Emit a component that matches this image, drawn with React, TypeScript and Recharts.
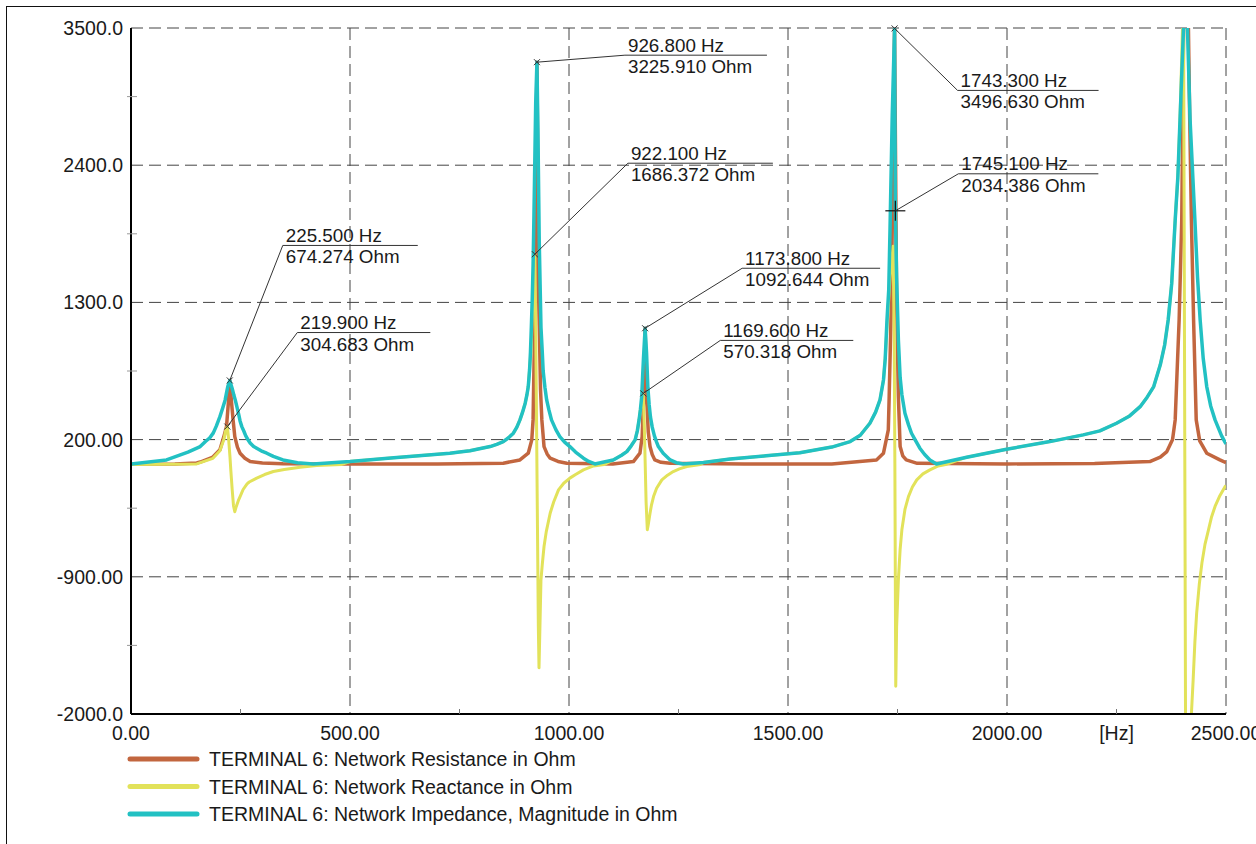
import { CartesianGrid, Line, LineChart, ReferenceDot, XAxis, YAxis } from 'recharts';

// frequency [Hz], value [Ohm]
const resistance: [number, number][] = [
  [0, 3], [100, 4], [150, 12], [158, 20], [187, 60], [203, 118], [212, 224], [218, 304], [222, 480],
  [225.5, 674], [229, 520], [233, 360], [237, 224], [243, 140], [249, 91], [260, 50], [272, 24],
  [300, 12], [347, 6], [500, 4], [700, 4], [850, 11], [888, 37], [907, 91], [915, 198], [918, 358],
  [922, 1200], [926.8, 3226], [931, 1300], [935, 600], [938, 358], [943, 144], [950, 85], [957, 51],
  [975, 25], [995, 11], [1100, 5], [1147, 24], [1162, 91], [1167, 224], [1171, 600], [1173.8, 1092],
  [1177, 550], [1181, 260], [1185, 144], [1190, 80], [1196, 37], [1210, 18], [1231, 10], [1400, 4],
  [1600, 5], [1702, 37], [1718, 91], [1729, 278], [1731, 544], [1736, 1300], [1743.3, 3497],
  [1748, 1300], [1752, 544], [1756, 144], [1762, 70], [1770, 37], [1795, 10], [2000, 5], [2200, 8],
  [2326, 24], [2350, 60], [2365, 104], [2378, 200], [2384, 358], [2393, 1159], [2399, 1960],
  [2404, 3800], [2408, 5500], [2413, 3800], [2417, 2800], [2421, 1960], [2426, 1159], [2432, 358],
  [2440, 190], [2456, 91], [2486, 37], [2500, 15],
];

const reactance: [number, number][] = [
  [0, 0], [150, 5], [187, 50], [203, 110], [212, 200], [216, 270], [219.9, 305], [223, 200], [226, 60],
  [228, -50], [231, -200], [234, -330], [237, -378], [240, -340], [245, -290], [250, -250], [256, -200],
  [265, -155], [270, -140], [287, -109], [305, -80], [325, -56], [350, -40], [386, -21], [424, -8],
  [480, 0], [500, 24], [600, 55], [728, 91], [750, 100], [774, 110], [790, 122], [820, 144],
  [835, 162], [850, 184], [862, 215], [873, 251], [881, 300], [888, 358], [894, 420], [900, 492],
  [904, 560], [907, 625], [910, 760], [913, 900], [917, 1250], [920, 1550], [922.1, 1686], [924, 1100],
  [926, 300], [928, -500], [930, -1300], [931.5, -1630], [933, -1400], [936, -924], [939, -800],
  [943, -657], [948, -540], [957, -390], [965, -300], [976, -203], [988, -150], [1002, -109],
  [1015, -80], [1033, -43], [1056, -11], [1080, 0], [1101, 37], [1110, 55], [1120, 75], [1132, 104],
  [1142, 150], [1151, 198], [1156, 270], [1160, 358], [1163, 440], [1166, 500], [1169.6, 570],
  [1172, 300], [1174, 0], [1176, -300], [1178.8, -523], [1181, -480], [1185, -390], [1188, -330],
  [1193, -257], [1200, -190], [1212, -123], [1225, -85], [1238, -56], [1252, -35], [1269, -16],
  [1300, 0], [1307, 16], [1368, 45], [1450, 70], [1527, 95], [1600, 140], [1642, 184], [1665, 235],
  [1687, 331], [1700, 420], [1710, 518], [1718, 678], [1722, 850], [1726, 1100], [1733, 1500],
  [1740, 1750], [1742.5, 1000], [1744, 0], [1745, -900], [1746, -1778], [1748, -1300], [1752, -924],
  [1756, -680], [1760, -523], [1767, -360], [1775, -257], [1784, -180], [1794, -123], [1808, -75],
  [1824, -43], [1843, -11], [1860, 0], [1908, 59], [1999, 123], [2098, 184], [2174, 238], [2212, 270],
  [2250, 331], [2280, 390], [2304, 464], [2320, 540], [2335, 625], [2350, 800], [2360, 960],
  [2368, 1159], [2376, 1450], [2384, 1960], [2390, 2300], [2395, 2761], [2403, 3800], [2409, -3800],
  [2415, -3200], [2421, -2000], [2425, -1727], [2429, -1420], [2433, -1191], [2439, -960], [2445, -790],
  [2452, -640], [2460, -523], [2467, -420], [2475, -336], [2486, -250], [2498, -176], [2500, -170],
];

const impedance: [number, number][] = [
  [0, 4], [81, 37], [130, 100], [158, 144], [170, 185], [180, 215], [188, 254], [195, 310], [203, 384],
  [209, 450], [215, 518], [219, 590], [221, 625], [225.5, 674], [231, 610], [235, 555], [238, 518],
  [242, 460], [246, 400], [249, 350], [253, 304], [258, 265], [262, 230], [266, 205], [272, 173],
  [280, 145], [290, 125], [300, 105], [310, 91], [325, 65], [347, 37], [380, 15], [416, 5], [500, 24],
  [600, 55], [728, 91], [750, 100], [774, 110], [790, 122], [820, 144], [835, 162], [850, 184],
  [862, 215], [873, 251], [881, 300], [888, 358], [894, 420], [900, 492], [904, 560], [907, 625],
  [910, 760], [912, 900], [914, 1100], [916, 1318], [918, 1600], [920, 2000], [922, 2450], [924, 2900],
  [926.8, 3226], [929, 2700], [931, 2100], [932, 1800], [934, 1450], [936, 1100], [939, 900],
  [941, 750], [945, 620], [949, 518], [954, 440], [960, 358], [970, 280], [979, 224], [990, 180],
  [1002, 144], [1015, 100], [1033, 51], [1045, 25], [1059, 5], [1101, 37], [1110, 55], [1120, 75],
  [1132, 104], [1142, 150], [1151, 198], [1156, 270], [1160, 358], [1163, 440], [1166, 544],
  [1168, 700], [1170, 850], [1173.8, 1092], [1177, 900], [1180, 620], [1183, 480], [1186, 380],
  [1190, 300], [1195, 230], [1200, 180], [1204, 144], [1215, 90], [1231, 37], [1245, 15], [1261, 4],
  [1307, 16], [1368, 45], [1450, 70], [1527, 95], [1600, 140], [1642, 184], [1665, 235], [1687, 331],
  [1700, 420], [1710, 518], [1718, 678], [1722, 850], [1726, 1158], [1730, 1400], [1733, 1900],
  [1738, 2800], [1743.3, 3497], [1745.1, 2034], [1748, 1500], [1752, 1000], [1756, 700], [1760, 560],
  [1767, 411], [1775, 320], [1782, 251], [1790, 200], [1801, 131], [1812, 80], [1824, 37], [1839, 4],
  [1908, 59], [1999, 123], [2098, 184], [2174, 238], [2212, 270], [2250, 331], [2280, 390],
  [2304, 464], [2320, 540], [2335, 625], [2350, 800], [2360, 960], [2368, 1159], [2376, 1450],
  [2384, 1960], [2390, 2300], [2395, 2761], [2403, 3500], [2408, 5200], [2412, 3500], [2418, 2761],
  [2429, 1960], [2435, 1500], [2441, 1159], [2448, 850], [2456, 625], [2465, 470], [2475, 358],
  [2490, 230], [2500, 165],
];

const seriesNames = [
  'TERMINAL 6: Network Resistance in Ohm',
  'TERMINAL 6: Network Reactance in Ohm',
  'TERMINAL 6: Network Impedance, Magnitude in Ohm',
];
const seriesColors = ['#c2663f', '#e2e25a', '#22c1c3'];

const xMajor = [0, 500, 1000, 1500, 2000, 2500];
const xMajorLabels = ['0.00', '500.00', '1000.00', '1500.00', '2000.00', '2500.00'];
const xMinor = [250, 750, 1250, 1750, 2250];
const xUnitAt = 2250;
const xUnitLabel = '[Hz]';

const yMajor = [3500, 2400, 1300, 200, -900, -2000];
const yMajorLabels = ['3500.0', '2400.0', '1300.0', '200.00', '-900.00', '-2000.0'];
const yMinor = [2950, 1850, 750, -350, -1450];

// markers: frequency, value
const calloutHz = [225.5, 219.9, 926.8, 922.1, 1173.8, 1169.6, 1743.3, 1745.1];
const calloutOhm = [674.274, 304.683, 3225.91, 1686.372, 1092.644, 570.318, 3496.63, 2034.386];
// pixel offset of the label from its point
const calloutLayout = [
  { dx: 53, dy: -135, len: 135 },
  { dx: 70, dy: -94, len: 133 },
  { dx: 88, dy: -7, len: 142 },
  { dx: 93, dy: -91, len: 145 },
  { dx: 97, dy: -60, len: 138 },
  { dx: 77, dy: -53, len: 133 },
  { dx: 63, dy: 62, len: 141 },
  { dx: 63, dy: -37, len: 140, cross: true },
];

const FONT = '"Liberation Sans", Arial, sans-serif';
const FS = 19.5;
const FS_NOTE = 18.8;
const TEXT = '#1a1a1a';

const toRows = (pts: [number, number][]) => pts.map(([f, v]) => ({ f, v }));

function XTick({ x, y, payload }: any) {
  const v = payload.value;
  const i = xMajor.indexOf(v);
  if (i >= 0) {
    return (
      <text x={x} y={y + 26} textAnchor="middle" fontSize={FS} fontFamily={FONT} fill={TEXT}>
        {xMajorLabels[i]}
      </text>
    );
  }
  return (
    <g>
      <line x1={x} y1={y - 5} x2={x} y2={y} stroke="#777" />
      {v === xUnitAt && (
        <text x={x} y={y + 26} textAnchor="middle" fontSize={FS} fontFamily={FONT} fill={TEXT}>
          {xUnitLabel}
        </text>
      )}
    </g>
  );
}

function YTick({ x, y, payload }: any) {
  const i = yMajor.indexOf(payload.value);
  if (i >= 0) {
    return (
      <text x={x - 8} y={y + 7} textAnchor="end" fontSize={FS} fontFamily={FONT} fill={TEXT}>
        {yMajorLabels[i]}
      </text>
    );
  }
  return <line x1={x - 4} y1={y} x2={x + 6} y2={y} stroke="#999" />;
}

function Callout({ cx, cy, idx }: any) {
  const { dx, dy, len, cross } = calloutLayout[idx] as any;
  const ux = cx + dx;
  const uy = cy + dy;
  return (
    <g>
      {cross ? (
        <g stroke="#111" strokeWidth={1.2}>
          <line x1={cx - 10} y1={cy} x2={cx + 10} y2={cy} />
          <line x1={cx} y1={cy - 10} x2={cx} y2={cy + 10} />
        </g>
      ) : (
        <g stroke="#333" strokeWidth={1}>
          <line x1={cx - 3} y1={cy - 3} x2={cx + 3} y2={cy + 3} />
          <line x1={cx - 3} y1={cy + 3} x2={cx + 3} y2={cy - 3} />
        </g>
      )}
      <line x1={cx} y1={cy} x2={ux} y2={uy} stroke="#333" strokeWidth={1} />
      <line x1={ux} y1={uy} x2={ux + len} y2={uy} stroke="#333" strokeWidth={1} />
      <text x={ux + 3} y={uy - 3.5} fontSize={FS_NOTE} fontFamily={FONT} fill={TEXT}>
        {`${calloutHz[idx].toFixed(3)} Hz`}
      </text>
      <text x={ux + 3} y={uy + 18} fontSize={FS_NOTE} fontFamily={FONT} fill={TEXT}>
        {`${calloutOhm[idx].toFixed(3)} Ohm`}
      </text>
    </g>
  );
}

export default function App() {
  const series = [resistance, reactance, impedance].map(toRows);
  return (
    <div
      style={{
        position: 'absolute',
        left: 0,
        top: 0,
        width: 1256,
        height: 844,
        background: '#fff',
        fontFamily: FONT,
        overflow: 'hidden',
      }}
    >
      <div
        style={{
          position: 'absolute',
          left: 6,
          top: 6,
          width: 1400,
          height: 1000,
          border: '1px solid #111',
        }}
      />
      <LineChart width={1256} height={844} margin={{ top: 28, right: 30, bottom: 100, left: 0 }}>
        <CartesianGrid
          stroke="#444"
          strokeDasharray="12 6"
          verticalValues={[500, 1000, 1500, 2000, 2500]}
          horizontalValues={[3500, 2400, 1300, 200, -900]}
        />
        <XAxis
          type="number"
          dataKey="f"
          domain={[0, 2500]}
          ticks={[...xMajor, ...xMinor].sort((a, b) => a - b)}
          interval={0}
          allowDataOverflow
          height={30}
          tickSize={0}
          tickMargin={0}
          tickLine={false}
          axisLine={{ stroke: '#000', strokeWidth: 2 }}
          tick={<XTick />}
        />
        <YAxis
          type="number"
          domain={[-2000, 3500]}
          ticks={[...yMajor, ...yMinor].sort((a, b) => a - b)}
          interval={0}
          allowDataOverflow
          width={131}
          tickSize={0}
          tickMargin={0}
          tickLine={false}
          axisLine={{ stroke: '#000', strokeWidth: 2 }}
          tick={<YTick />}
        />
        {series.map((rows, i) => (
          <Line
            key={seriesNames[i]}
            data={rows}
            dataKey="v"
            name={seriesNames[i]}
            type="linear"
            stroke={seriesColors[i]}
            strokeWidth={i === 1 ? 3 : 3.5}
            strokeLinejoin="round"
            dot={false}
            activeDot={false}
            isAnimationActive={false}
          />
        ))}
        {calloutHz.map((hz, i) => (
          <ReferenceDot
            key={i}
            x={hz}
            y={calloutOhm[i]}
            r={0}
            ifOverflow="visible"
            shape={(p: any) => <Callout cx={p.cx} cy={p.cy} idx={i} />}
          />
        ))}
      </LineChart>
      <svg width={800} height={100} style={{ position: 'absolute', left: 0, top: 740 }}>
        {seriesNames.map((name, i) => (
          <g key={name}>
            <line
              x1={130}
              y1={19 + i * 27.5}
              x2={197}
              y2={19 + i * 27.5}
              stroke={seriesColors[i]}
              strokeWidth={5}
              strokeLinecap="round"
            />
            <text x={209} y={19 + i * 27.5 + 7} fontSize={FS} fontFamily={FONT} fill={TEXT}>
              {name}
            </text>
          </g>
        ))}
      </svg>
    </div>
  );
}
